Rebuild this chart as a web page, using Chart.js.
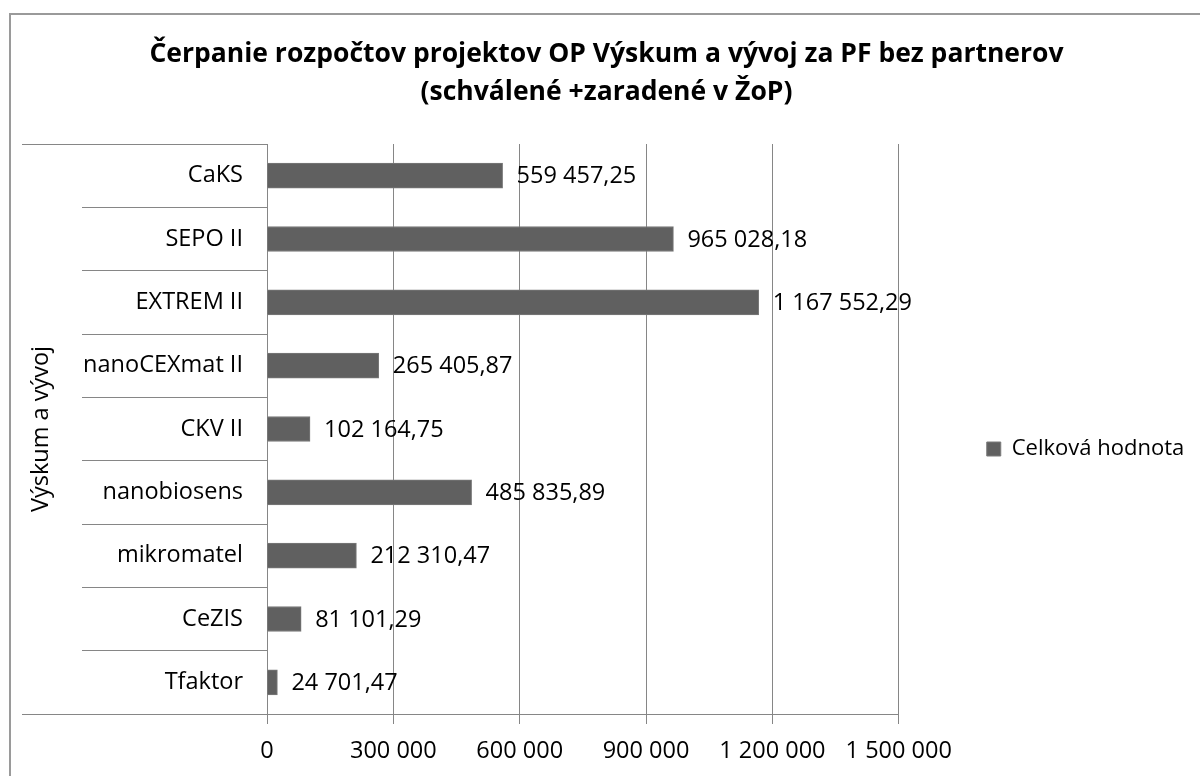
<!DOCTYPE html>
<html>
<head>
<meta charset="utf-8">
<script src="https://cdn.jsdelivr.net/npm/chart.js@4.4.1/dist/chart.umd.min.js"></script>
<style>
    html, body { margin: 0; padding: 0; background: #fff; }
    #wrap { position: relative; width: 1200px; height: 776px; overflow: hidden; }
    #frame { position: absolute; left: 9px; top: 13px; width: 1300px; height: 900px;
             border: 2px solid #9a9a9a; box-sizing: border-box; }
    #chart { position: absolute; left: 0; top: 0; }
</style>
</head>
<body>
<div id="wrap">
    <div id="frame"></div>
    <canvas id="chart" width="1200" height="776"></canvas>
</div>
<script>
const projects = [
    "CaKS",
    "SEPO II",
    "EXTREM II",
    "nanoCEXmat II",
    "CKV II",
    "nanobiosens",
    "mikromatel",
    "CeZIS",
    "Tfaktor",
];
const totals = [
    559457.25,
    965028.18,
    1167552.29,
    265405.87,
    102164.75,
    485835.89,
    212310.47,
    81101.29,
    24701.47,
];
const xTicks = [0, 300000, 600000, 900000, 1200000, 1500000];
const groupLabel = "Výskum a vývoj";
const seriesName = "Celková hodnota";
const titleLines = [
    "Čerpanie rozpočtov projektov OP Výskum a vývoj za PF bez partnerov",
    "(schválené +zaradené v ŽoP)",
];

const FONT = "'Open Sans', sans-serif";
const LINE = "#868686";
const LABEL_SIZE = 23.5;

// 1234567.8 -> "1 234 567,80"
function spaced(n, decimals) {
    const parts = n.toFixed(decimals).split(".");
    const int = parts[0].replace(/\B(?=(\d{3})+(?!\d))/g, " ");
    return parts.length > 1 ? int + "," + parts[1] : int;
}

const barLabels = {
    id: "barLabels",
    afterDatasetsDraw(chart) {
        const ctx = chart.ctx;
        const meta = chart.getDatasetMeta(0);
        ctx.save();
        ctx.font = LABEL_SIZE + "px " + FONT;
        ctx.fillStyle = "#000";
        ctx.textAlign = "left";
        ctx.textBaseline = "middle";
        meta.data.forEach((bar, i) => {
            ctx.fillText(spaced(totals[i], 2), bar.x + 14, bar.y + 1);
        });
        ctx.restore();
    },
};

// outer bracket of the two-level category axis + group name
const groupAxis = {
    id: "groupAxis",
    afterDraw(chart) {
        const ctx = chart.ctx;
        const area = chart.chartArea;
        ctx.save();
        ctx.strokeStyle = LINE;
        ctx.lineWidth = 1;
        ctx.beginPath();
        ctx.moveTo(22, area.top + 0.5);
        ctx.lineTo(90, area.top + 0.5);
        ctx.moveTo(22, area.bottom + 0.5);
        ctx.lineTo(90, area.bottom + 0.5);
        ctx.stroke();
        ctx.translate(41, (area.top + area.bottom) / 2);
        ctx.rotate(-Math.PI / 2);
        ctx.font = LABEL_SIZE + "px " + FONT;
        ctx.fillStyle = "#000";
        ctx.textAlign = "center";
        ctx.textBaseline = "middle";
        ctx.fillText(groupLabel, 0, 0);
        ctx.restore();
    },
};

Chart.defaults.font.family = FONT;
Chart.defaults.color = "#000";

new Chart(document.getElementById("chart"), {
    type: "bar",
    data: {
        labels: projects,
        datasets: [
            {
                label: seriesName,
                data: totals,
                backgroundColor: "#606060",
                borderColor: "#7a7a7a",
                borderWidth: 1,
                barThickness: 25,
            },
        ],
    },
    options: {
        indexAxis: "y",
        responsive: false,
        animation: false,
        devicePixelRatio: 1,
        layout: { padding: { top: 0, right: 9, bottom: 0, left: 22 } },
        plugins: {
            title: {
                display: true,
                text: titleLines,
                font: { size: 26.5, weight: "bold", lineHeight: 38 / 26.5 },
                color: "#000",
                padding: { top: 35, bottom: 33 },
            },
            legend: {
                position: "right",
                fullSize: false,
                title: {
                    display: true,
                    text: " ",
                    font: { size: 1, lineHeight: 1 },
                    padding: { top: 0, bottom: 39 },
                },
                labels: {
                    boxWidth: 14,
                    boxHeight: 14,
                    padding: 88,
                    font: { size: 22 },
                    color: "#000",
                },
            },
            tooltip: { enabled: false },
        },
        scales: {
            x: {
                min: 0,
                max: 1500000,
                afterBuildTicks(scale) {
                    scale.ticks = xTicks.map((v) => ({ value: v }));
                },
                ticks: {
                    font: { size: LABEL_SIZE },
                    color: "#000",
                    padding: 13,
                    maxRotation: 0,
                    callback: (v) => spaced(v, 0),
                },
                grid: { color: LINE, tickLength: 10 },
                border: { color: LINE },
                afterFit(scale) {
                    scale.height = 62;
                },
            },
            y: {
                ticks: {
                    font: { size: LABEL_SIZE },
                    color: "#000",
                    padding: -161,
                },
                grid: {
                    offset: true,
                    drawOnChartArea: false,
                    tickLength: 185,
                    color: LINE,
                },
                border: { color: LINE },
                afterFit(scale) {
                    scale.width = 245;
                },
            },
        },
    },
    plugins: [barLabels, groupAxis],
});
</script>
</body>
</html>
